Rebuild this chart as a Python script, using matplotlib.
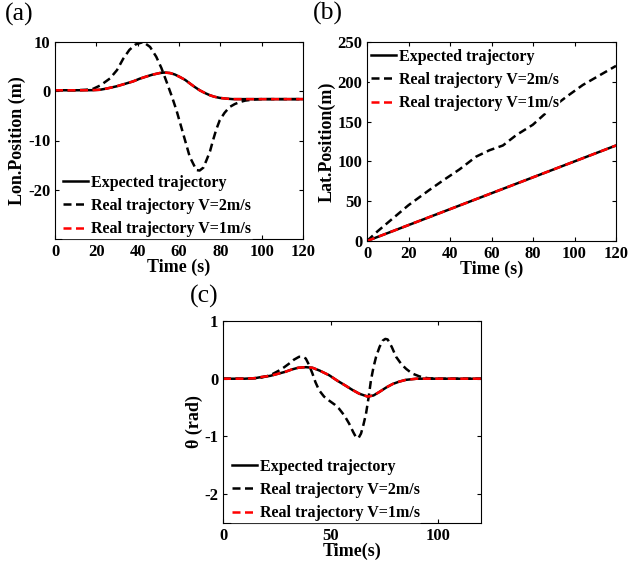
import matplotlib.pyplot as plt

plt.rcParams['font.family'] = ['Liberation Serif', 'DejaVu Serif']
plt.rcParams['font.weight'] = 'bold'
plt.rcParams['axes.labelweight'] = 'bold'
plt.rcParams['axes.unicode_minus'] = False

# (a) longitudinal position
t_lon_exp = [0, 10, 18, 21.7, 25, 29.8, 33, 37.8, 41, 44.3, 47, 50.7, 53, 55.6, 58, 60.4, 63,
             65.2, 67.5, 70, 72.5, 74.9, 77, 79.7, 83, 86, 90, 100, 110, 120]
lon_exp = [0.2, 0.2, 0.22, 0.3, 0.55, 1.0, 1.4, 2.0, 2.55, 3.0, 3.35, 3.7, 3.8, 3.7, 3.4, 2.9, 2.3,
           1.6, 0.9, 0.2, -0.35, -0.8, -1.1, -1.35, -1.5, -1.6, -1.6, -1.6, -1.6, -1.6]
t_lon_v2 = [0, 10, 15, 18.5, 22, 26.6, 30, 33, 36, 39, 42.7, 46, 49, 51.5, 54, 56.5, 58.8, 62,
            65.2, 68.4, 70, 71.8, 73.3, 75, 76.5, 78, 79.7, 82, 84.5, 87, 89.4, 92, 95.8, 100, 110, 120]
lon_v2 = [0.2, 0.2, 0.3, 0.5, 1.2, 2.6, 4.3, 6.6, 8.4, 9.5, 10.0, 9.0, 7.0, 4.7, 1.9, -1.0, -3.9, -8.6,
          -13.3, -16.0, -16.1, -15.5, -14.0, -12.2, -9.9, -7.8, -5.9, -4.4, -3.2, -2.6, -2.2, -1.9,
          -1.7, -1.6, -1.6, -1.6]

# (b) lateral position
t_lat = [0, 120]
lat_exp = [0, 120]
t_lat_v2 = [0, 5, 10, 20, 30, 36.6, 44.6, 52.6, 59, 65.5, 71.9, 79.9, 88, 96, 104, 112, 120]
lat_v2 = [0, 12, 23, 45, 64, 76, 90, 106, 114, 120, 133, 146, 165, 181, 196, 208, 220]

# (c) heading angle
t_th_exp = [0, 10, 15, 18, 22, 26, 29, 32, 35, 38.5, 41.6, 45, 49.4, 53, 57, 60, 63.4, 67.3, 70,
            72.7, 76, 79, 82, 85, 90, 100, 110, 120]
th_exp = [0, 0, 0.01, 0.03, 0.05, 0.09, 0.12, 0.16, 0.19, 0.2, 0.19, 0.14, 0.06, -0.03, -0.12,
          -0.19, -0.26, -0.31, -0.29, -0.23, -0.15, -0.09, -0.05, -0.02, 0, 0, 0, 0]
t_th_v2 = [0, 10, 15, 18, 22, 26, 28.5, 30.7, 33, 35.4, 37, 38.5, 40, 41.6, 43, 44.7, 47, 49.4, 52,
           54, 56.5, 58.7, 60.5, 61.8, 63, 64.2, 65.3, 66.5, 67.7, 68.8, 70, 71.2, 72.8, 74.3, 75.5,
           76.6, 78.5, 80.5, 83, 85.2, 88, 91.4, 95, 100, 110, 120]
th_v2 = [0, 0, 0.01, 0.02, 0.06, 0.14, 0.2, 0.26, 0.33, 0.38, 0.38, 0.35, 0.24, 0.09, -0.06, -0.2,
         -0.31, -0.38, -0.45, -0.52, -0.64, -0.78, -0.92, -1.01, -1.03, -0.95, -0.8, -0.61, -0.33,
         -0.03, 0.2, 0.38, 0.55, 0.66, 0.69, 0.68, 0.55, 0.38, 0.25, 0.17, 0.09, 0.04, 0.01, 0, 0, 0]

labels = ['Expected trajectory', 'Real trajectory V=2m/s', 'Real trajectory V=1m/s']

fig = plt.figure(figsize=(6.31, 5.64), dpi=100)
ax_a = fig.add_axes([55 / 631, 1 - 239 / 564, 248 / 631, 197 / 564])
ax_b = fig.add_axes([367 / 631, 1 - 241 / 564, 249 / 631, 199 / 564])
ax_c = fig.add_axes([223 / 631, 1 - 523 / 564, 258 / 631, 202 / 564])

DASH = (0, (3.2, 1.8))


def draw(ax, t_exp, y_exp, t_v2, y_v2, loc, anchor):
    ax.plot(t_exp, y_exp, color='black', lw=1.8, label=labels[0])
    ax.plot(t_v2, y_v2, color='black', lw=1.8, ls=DASH, label=labels[1])
    ax.plot(t_exp, y_exp, color='red', lw=1.8, ls=DASH, label=labels[2])
    ax.set_xlim(0, 120)
    ax.tick_params(direction='in', top=True, right=True, labelsize=12, length=3, width=0.8)
    leg = ax.legend(loc=loc, bbox_to_anchor=anchor, fontsize=11.5, frameon=True, framealpha=1,
                    edgecolor='white', fancybox=False, handlelength=1.6, handletextpad=0.15,
                    labelspacing=0.46, borderaxespad=0.05, borderpad=0.05)
    for txt in leg.get_texts():
        txt.set_fontweight('bold')


draw(ax_a, t_lon_exp, lon_exp, t_lon_v2, lon_v2, 'lower left', (0.025, 0.0))
ax_a.set_ylim(-30, 10)
ax_a.set_yticks([-20, -10, 0, 10])
ax_a.set_xticks([0, 20, 40, 60, 80, 100, 120])
ax_a.set_xlabel('Time (s)', fontsize=13, labelpad=-1)
ax_a.set_ylabel('Lon.Position (m)', fontsize=13, labelpad=1)

draw(ax_b, t_lat, lat_exp, t_lat_v2, lat_v2, 'upper left', (0.008, 0.975))
ax_b.set_ylim(0, 250)
ax_b.set_xticks([0, 20, 40, 60, 80, 100, 120])
ax_b.set_xlabel('Time (s)', fontsize=13, labelpad=-1)
ax_b.set_ylabel('Lat.Position(m)', fontsize=13, labelpad=1)

draw(ax_c, t_th_exp, th_exp, t_th_v2, th_v2, 'lower left', (0.027, 0.0))
ax_c.set_ylim(-2.5, 1)
ax_c.set_yticks([-2, -1, 0, 1])
ax_c.set_xticks([0, 50, 100])
ax_c.set_xlabel('Time(s)', fontsize=13, labelpad=-1)
ax_c.set_ylabel('θ (rad)', fontsize=13, labelpad=1)

# bold tick numbers on every panel
for ax in (ax_a, ax_b, ax_c):
    for lab in ax.get_xticklabels() + ax.get_yticklabels():
        lab.set_fontweight('bold')

fig.text(5 / 631, 1 - 3 / 564, '(a)', fontsize=18.5, fontweight='normal', va='top')
fig.text(313 / 631, 1 - 2 / 564, '(b)', fontsize=18.5, fontweight='normal', va='top')
fig.text(190 / 631, 1 - 285 / 564, '(c)', fontsize=18.5, fontweight='normal', va='top')

fig.savefig('out.png', dpi=100)
